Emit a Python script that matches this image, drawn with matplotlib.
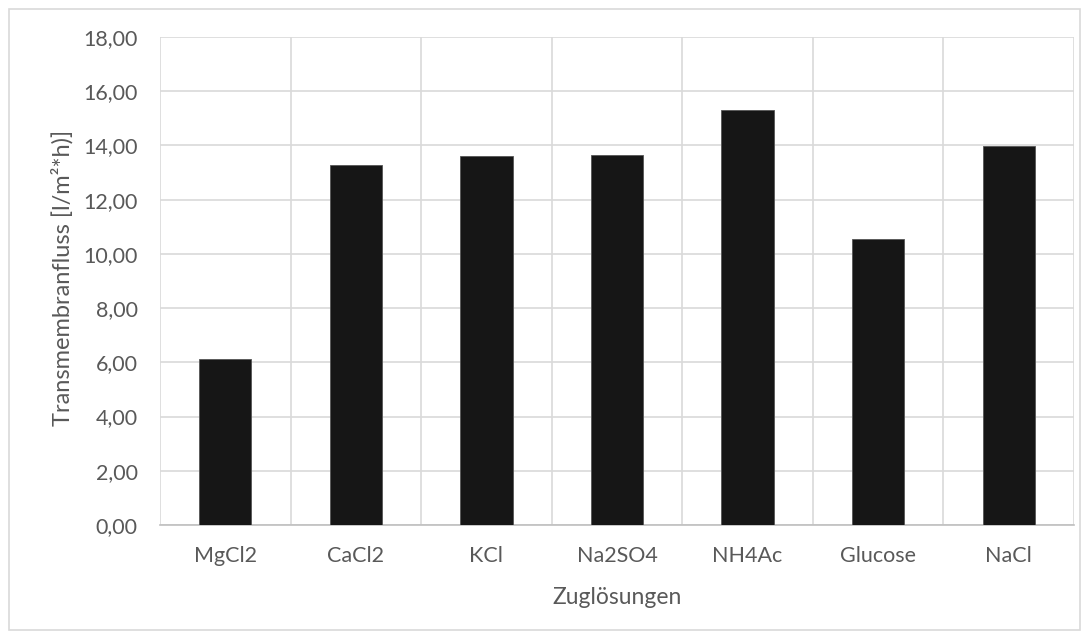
import numpy as np
import matplotlib.pyplot as plt
from matplotlib.ticker import FuncFormatter, MultipleLocator
from matplotlib.patches import Rectangle

categories = ['MgCl2', 'CaCl2', 'KCl', 'Na2SO4', 'NH4Ac', 'Glucose', 'NaCl']
flux = [6.13, 13.28, 13.60, 13.63, 15.29, 10.54, 13.97]

plt.rcParams['font.family'] = ['Lato', 'DejaVu Sans']
text_grey = '#595959'
grid_grey = '#d9d9d9'

fig = plt.figure(figsize=(10.9, 6.39), dpi=100)
ax = fig.add_axes([160 / 1090, 1 - 525 / 639, 914 / 1090, 488 / 639])

x = np.arange(len(categories))
ax.bar(x, flux, width=0.4, color='#161616', edgecolor='#555555', linewidth=0.6, zorder=3)

ax.set_xlim(-0.5, len(categories) - 0.5)
ax.set_ylim(0, 18)
ax.yaxis.set_major_locator(MultipleLocator(2))
ax.yaxis.set_major_formatter(FuncFormatter(lambda v, p: f'{v:.2f}'.replace('.', ',')))
ax.set_xticks(x)
ax.set_xticklabels(categories)

# category boundaries as vertical grid lines
ax.set_xticks(np.arange(-0.5, len(categories)), minor=True)
ax.grid(axis='y', which='major', color=grid_grey, linewidth=1.2, zorder=0)
ax.grid(axis='x', which='minor', color=grid_grey, linewidth=1.2, zorder=0)

for side in ['top', 'right', 'left']:
    ax.spines[side].set_visible(False)
ax.spines['bottom'].set_color('#bfbfbf')
ax.spines['bottom'].set_linewidth(1.2)

ax.tick_params(axis='both', which='both', length=0, colors=text_grey, labelsize=15.5)
ax.tick_params(axis='x', pad=15)
ax.tick_params(axis='y', pad=16)

ax.set_xlabel('Zuglösungen', color=text_grey, fontsize=16.5)
ax.set_ylabel('Transmembranfluss [l/m²*h)]', color=text_grey, fontsize=17)

# axis titles placed in figure pixels
ax.yaxis.set_label_coords(62 / 1090, 1 - 278 / 639, transform=fig.transFigure)
ax.yaxis.label.set_verticalalignment('center')
ax.xaxis.set_label_coords(617 / 1090, 1 - 597 / 639, transform=fig.transFigure)
ax.xaxis.label.set_verticalalignment('center')

# outer chart frame
fig.patches.append(Rectangle((9 / 1090, 9 / 639), 1071 / 1090, 621 / 639,
                             transform=fig.transFigure, fill=False,
                             edgecolor='#d9d9d9', linewidth=1.2))

fig.savefig('out.png', dpi=100, facecolor='white')
